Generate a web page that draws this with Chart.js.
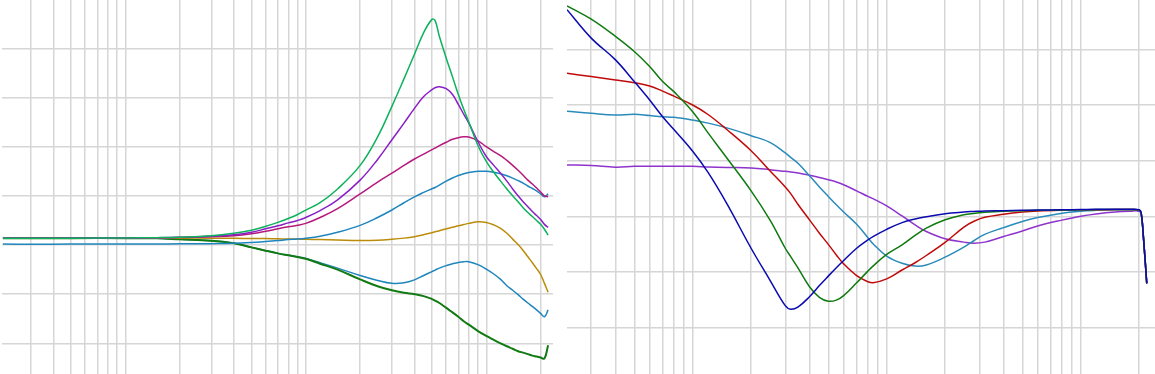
<!DOCTYPE html>
<html>
<head>
<meta charset="utf-8">
<script src="https://cdn.jsdelivr.net/npm/chart.js@4.4.1/dist/chart.umd.min.js"></script>
<style>
  html, body { margin: 0; padding: 0; background: #ffffff; overflow: hidden; }
  #wrap { position: relative; width: 1155px; height: 374px; }
  canvas { position: absolute; top: 0; }
  #left { left: 2px; }
  #right { left: 567px; }
</style>
</head>
<body>
<div id="wrap">
  <canvas id="left" width="551" height="374"></canvas>
  <canvas id="right" width="588" height="374"></canvas>
</div>
<script>
// ---------- Left panel data (frequency in Hz, level) ----------
const leftFreq = [21, 30, 50, 100, 150, 200, 300, 400, 500, 600, 700, 800, 900, 1000, 1200, 1500, 2000, 2500, 3000, 3500, 4000, 4500, 5000, 5200, 5500, 6000, 6500, 7000, 7500, 8000, 9000, 10000, 11000, 12000, 13000, 14000, 15000, 16000, 17000, 18000, 19000, 20000, 21000, 22000];

const leftGreenPeak = [0.7, 0.7, 0.7, 0.72, 0.75, 0.8, 0.95, 1.2, 1.5, 1.9, 2.3, 2.7, 3.1, 3.55, 4.3, 5.7, 8.1, 11.0, 14.1, 16.9, 19.4, 21.6, 22.95, 22.85, 21.2, 19.0, 17.1, 15.3, 13.8, 12.5, 10.1, 8.5, 7.4, 6.5, 5.7, 5.0, 4.4, 3.8, 3.3, 2.9, 2.5, 2.1, 1.6, 1.0];
const leftPurple    = [0.7, 0.7, 0.7, 0.72, 0.74, 0.78, 0.9, 1.05, 1.3, 1.65, 1.95, 2.25, 2.5, 2.8, 3.5, 4.6, 6.6, 8.7, 10.7, 12.4, 13.9, 15.1, 15.8, 16.0, 16.1, 15.9, 15.3, 14.3, 13.3, 12.4, 10.5, 9.0, 8.1, 7.3, 6.5, 5.7, 5.0, 4.4, 3.9, 3.4, 3.0, 2.6, 2.1, 1.8];
const leftMagenta   = [0.7, 0.7, 0.7, 0.71, 0.73, 0.76, 0.85, 0.95, 1.15, 1.4, 1.65, 1.85, 2.0, 2.2, 2.8, 3.7, 5.2, 6.4, 7.3, 8.1, 8.75, 9.25, 9.7, 9.85, 10.1, 10.45, 10.75, 10.92, 11.0, 10.98, 10.6, 10.0, 9.5, 9.1, 8.6, 8.1, 7.6, 7.1, 6.6, 6.2, 5.8, 5.4, 5.0, 4.9];
const leftBlueUpper = [0.1, 0.08, 0.1, 0.1, 0.1, 0.12, 0.14, 0.17, 0.25, 0.35, 0.45, 0.55, 0.6, 0.68, 0.9, 1.3, 2.0, 2.8, 3.56, 4.3, 4.9, 5.35, 5.72, 5.85, 6.1, 6.5, 6.82, 7.07, 7.25, 7.38, 7.5, 7.5, 7.4, 7.25, 7.05, 6.8, 6.55, 6.3, 6.0, 5.75, 5.5, 5.2, 4.9, 5.2];
const leftGold      = [0.7, 0.7, 0.7, 0.7, 0.7, 0.7, 0.7, 0.68, 0.66, 0.65, 0.63, 0.6, 0.6, 0.58, 0.55, 0.5, 0.45, 0.48, 0.58, 0.7, 0.85, 1.05, 1.25, 1.35, 1.46, 1.65, 1.8, 1.95, 2.08, 2.2, 2.37, 2.3, 2.05, 1.7, 1.2, 0.6, 0.05, -0.55, -1.2, -1.8, -2.4, -3.0, -3.9, -4.8];
const leftBlueLower = [0.7, 0.7, 0.7, 0.7, 0.68, 0.58, 0.44, 0.17, -0.24, -0.58, -0.85, -1.05, -1.2, -1.36, -1.8, -2.35, -3.1, -3.6, -3.9, -3.85, -3.55, -3.1, -2.7, -2.55, -2.35, -2.1, -1.9, -1.78, -1.7, -1.7, -2.0, -2.45, -2.95, -3.5, -4.15, -4.6, -5.05, -5.5, -5.9, -6.25, -6.6, -6.95, -7.3, -6.6];
const leftDarkGreen = [0.7, 0.68, 0.7, 0.7, 0.68, 0.58, 0.44, 0.17, -0.24, -0.58, -0.85, -1.05, -1.22, -1.4, -1.9, -2.5, -3.5, -4.2, -4.6, -4.85, -5.0, -5.2, -5.5, -5.65, -5.9, -6.4, -6.85, -7.3, -7.75, -8.1, -8.75, -9.25, -9.65, -10.0, -10.3, -10.55, -10.8, -10.95, -11.1, -11.25, -11.35, -11.45, -11.55, -10.2];

// ---------- Right panel data ----------
const rightFreq = [22.5, 30, 40, 50, 60, 70, 80, 100, 120, 150, 200, 250, 300, 320, 350, 400, 450, 500, 550, 600, 700, 800, 850, 1000, 1200, 1400, 1600, 2000, 2500, 2800, 3200, 4000, 5000, 6000, 8000, 10000, 12000, 15000, 18000, 20000, 20500, 21000, 21900];

const rightBlue      = [37.1, 32.0, 28.1, 24.2, 20.9, 17.9, 15.6, 11.7, 7.9, 2.3, -5.7, -11.4, -16.0, -16.65, -16.2, -14.4, -12.4, -10.7, -9.2, -7.9, -5.7, -4.2, -3.6, -2.3, -1.1, -0.45, -0.05, 0.5, 0.8, 0.9, 1.0, 1.05, 1.1, 1.15, 1.2, 1.25, 1.3, 1.3, 1.3, 1.2, 0.6, -3.2, -12.0];
const rightGreen     = [37.8, 35.4, 32.3, 29.6, 26.9, 24.2, 22.4, 18.8, 15.0, 10.5, 4.6, -0.6, -5.7, -7.2, -9.3, -12.6, -14.5, -15.2, -15.0, -14.2, -11.9, -9.8, -8.9, -6.8, -5.1, -3.4, -2.1, -0.6, 0.3, 0.55, 0.75, 0.95, 1.05, 1.1, 1.15, 1.2, 1.25, 1.25, 1.25, 1.15, 0.6, -3.2, -12.0];
const rightRed       = [25.7, 25.1, 24.5, 24.0, 23.4, 22.5, 21.6, 20.0, 18.3, 15.6, 11.8, 8.2, 5.3, 4.1, 2.1, -0.6, -3.0, -5.0, -6.9, -8.5, -10.6, -11.7, -11.9, -11.2, -9.6, -8.3, -7.0, -4.65, -1.9, -0.9, -0.15, 0.4, 0.8, 1.0, 1.15, 1.2, 1.2, 1.25, 1.25, 1.15, 0.6, -3.2, -12.0];
const rightLightBlue = [18.9, 18.5, 18.2, 18.35, 18.1, 17.9, 17.8, 17.3, 16.75, 15.9, 14.5, 13.3, 11.4, 10.6, 9.5, 7.3, 5.3, 3.6, 2.1, 0.8, -1.4, -3.8, -4.9, -7.1, -8.4, -8.9, -8.7, -7.3, -5.5, -4.4, -3.2, -2.0, -0.9, -0.2, 0.6, 0.95, 1.1, 1.2, 1.2, 1.1, 0.6, -3.2, -12.0];
const rightPurple    = [9.25, 9.15, 8.85, 9.0, 9.0, 9.0, 9.0, 9.0, 8.9, 8.8, 8.7, 8.4, 8.1, 8.0, 7.8, 7.4, 7.0, 6.6, 6.2, 5.7, 4.6, 3.6, 3.2, 1.9, 0.1, -1.5, -2.7, -4.0, -4.6, -4.8, -4.6, -3.6, -2.6, -1.7, -0.65, 0.05, 0.45, 0.8, 0.95, 0.95, 0.5, -3.2, -12.0];

// ---------- helpers ----------
function pts(freqs, vals) { return freqs.map((f, i) => ({ x: f, y: vals[i] })); }
function ds(freqs, vals, color, width) {
  return { data: pts(freqs, vals), borderColor: color, borderWidth: width || 1.5,
           pointRadius: 0, fill: false, tension: 0.4 };
}
function logTicks(scale) {
  const t = [];
  for (let e = 0; e < 6; e++) for (let k = 1; k < 10; k++) {
    const v = k * Math.pow(10, e);
    if (v > scale.min && v < scale.max) t.push({ value: v });
  }
  scale.ticks = t;
}
function linTicks(step) {
  return function (scale) {
    const t = [];
    for (let v = Math.ceil(scale.min / step) * step; v < scale.max; v += step) {
      if (v > scale.min) t.push({ value: v });
    }
    scale.ticks = t;
  };
}
const gridStyle = { color: '#d6d6d6', lineWidth: 1.5, drawTicks: false };

function makeChart(id, datasets, xmin, xmax, ymin, ymax, step) {
  return new Chart(document.getElementById(id), {
    type: 'line',
    data: { datasets: datasets },
    options: {
      responsive: false, maintainAspectRatio: false, animation: false, devicePixelRatio: 1,
      layout: { padding: 0 },
      plugins: { legend: { display: false }, tooltip: { enabled: false } },
      scales: {
        x: { type: 'logarithmic', min: xmin, max: xmax, afterBuildTicks: logTicks,
             grid: gridStyle, border: { display: false }, ticks: { display: false } },
        y: { type: 'linear', min: ymin, max: ymax, afterBuildTicks: linTicks(step),
             grid: gridStyle, border: { display: false }, ticks: { display: false } }
      }
    }
  });
}

makeChart('left', [
  ds(leftFreq, leftGreenPeak, '#0db25c'),
  ds(leftFreq, leftPurple, '#8a1fc6'),
  ds(leftFreq, leftMagenta, '#b5197c'),
  ds(leftFreq, leftBlueUpper, '#1f85bd'),
  ds(leftFreq, leftGold, '#bb8c0a'),
  ds(leftFreq, leftDarkGreen, '#127a12', 2),
  ds(leftFreq, leftBlueLower, '#1f85bd')
], 20.75, 23420, -13.12, 24.92, 5);

makeChart('right', [
  ds(rightFreq, rightBlue, '#0a0ab0'),
  ds(rightFreq, rightGreen, '#107a10'),
  ds(rightFreq, rightRed, '#c00a0a'),
  ds(rightFreq, rightLightBlue, '#2a8bbb'),
  ds(rightFreq, rightPurple, '#8e33cc')
], 22.5, 24150, -28.26, 38.84, 10);
</script>
</body>
</html>
